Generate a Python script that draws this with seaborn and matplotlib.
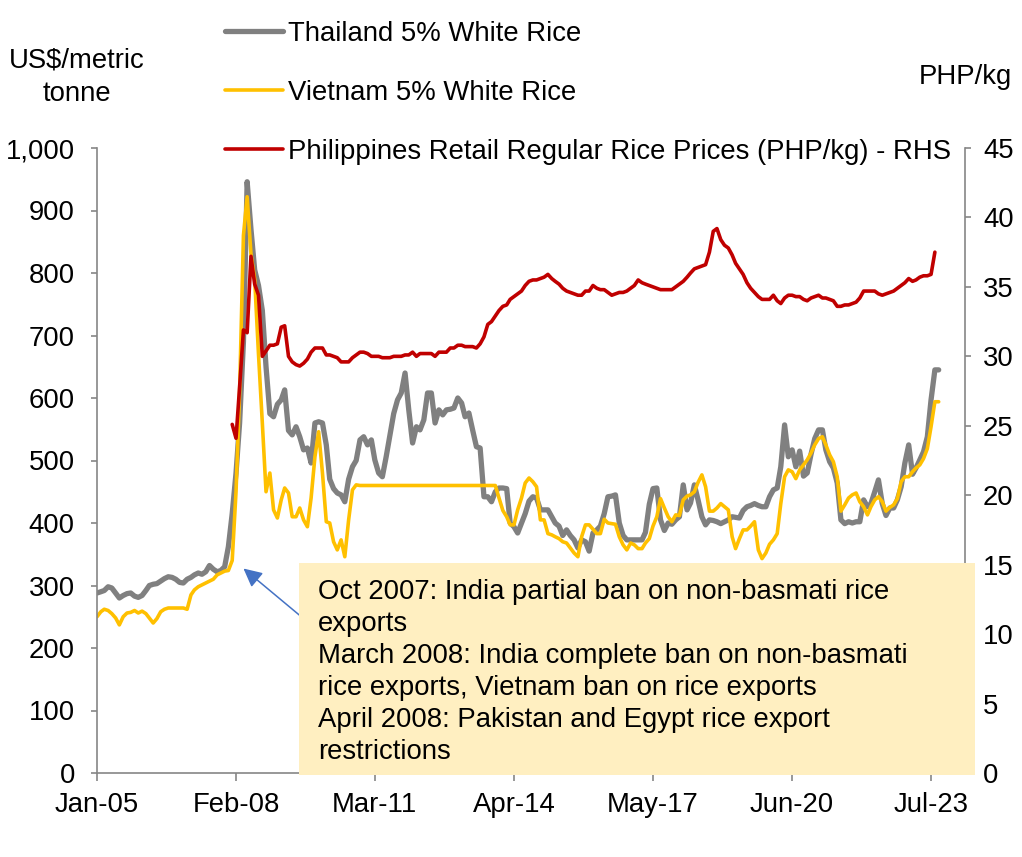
import seaborn as sns
import pandas as pd
import numpy as np
import matplotlib.pyplot as plt
from matplotlib.patches import Rectangle
from matplotlib.ticker import FuncFormatter

# monthly export prices, US$/metric tonne, Jan 2005 - Sep 2023
thailand = [
    288, 290, 292, 298, 296, 288, 280, 284, 287, 288,
    283, 281, 284, 292, 300, 302, 303, 307, 311, 314,
    313, 310, 305, 304, 310, 313, 317, 320, 318, 322,
    332, 326, 322, 324, 330, 362, 415, 480, 560, 690,
    946, 870, 805, 780, 740, 650, 575, 570, 590, 597,
    613, 548, 541, 554, 538, 517, 520, 496, 560, 562,
    560, 525, 470, 455, 448, 445, 434, 470, 490, 500,
    533, 538, 525, 533, 501, 480, 474, 506, 540, 575,
    597, 608, 640, 581, 528, 554, 549, 565, 608, 608,
    560, 581, 573, 581, 582, 584, 600, 592, 570, 576,
    549, 522, 520, 442, 442, 434, 450, 456, 456, 455,
    400, 394, 384, 400, 415, 435, 442, 440, 421, 421,
    421, 410, 400, 395, 380, 389, 380, 373, 360, 373,
    370, 355, 384, 389, 395, 415, 442, 443, 445, 400,
    380, 373, 373, 373, 373, 373, 385, 430, 455, 456,
    405, 388, 400, 398, 405, 410, 461, 421, 432, 461,
    437, 410, 397, 405, 404, 402, 399, 402, 405, 410,
    409, 408, 420, 426, 428, 431, 428, 426, 426, 442,
    453, 456, 490, 557, 506, 517, 490, 515, 475, 480,
    510, 535, 549, 549, 517, 498, 488, 464, 405, 399,
    402, 400, 402, 402, 437, 426, 431, 450, 469, 431,
    412, 424, 424, 437, 458, 496, 525, 478, 488, 501,
    514, 538, 597, 645, 645,
]

vietnam = [
    250, 258, 262, 260, 255, 248, 237, 250, 256, 257,
    260, 256, 259, 255, 248, 240, 247, 258, 262, 264,
    264, 264, 264, 264, 262, 285, 293, 298, 301, 304,
    307, 310, 317, 320, 323, 324, 340, 450, 610, 860,
    922, 830, 790, 670, 560, 450, 480, 421, 408, 437,
    456, 448, 410, 410, 424, 405, 394, 440, 506, 546,
    480, 402, 400, 370, 357, 373, 346, 405, 453, 461,
    460, 460, 460, 460, 460, 460, 460, 460, 460, 460,
    460, 460, 460, 460, 460, 460, 460, 460, 460, 460,
    460, 460, 460, 460, 460, 460, 460, 460, 460, 460,
    460, 460, 460, 460, 460, 460, 460, 440, 420, 410,
    397, 397, 421, 440, 464, 472, 466, 458, 405, 405,
    383, 381, 378, 375, 370, 368, 360, 352, 346, 378,
    397, 397, 390, 383, 383, 406, 400, 399, 398, 378,
    365, 357, 368, 365, 359, 359, 368, 375, 395, 410,
    439, 424, 410, 402, 413, 412, 437, 443, 445, 450,
    465, 477, 458, 419, 419, 424, 431, 426, 421, 378,
    359, 375, 389, 389, 395, 402, 357, 343, 352, 366,
    373, 383, 431, 474, 485, 482, 471, 485, 493, 501,
    512, 525, 535, 538, 525, 509, 498, 474, 419, 429,
    440, 445, 448, 434, 426, 413, 426, 437, 442, 434,
    419, 425, 429, 439, 466, 474, 474, 482, 488, 493,
    503, 519, 554, 594, 594,
]

# retail regular rice, PHP/kg, Jan 2008 - Aug 2023
philippines = [
    25.1, 24.1, 27.8, 31.9, 31.7, 37.2, 35.2, 34.4, 30.0, 30.4,
    30.8, 30.8, 30.9, 32.1, 32.2, 30.0, 29.6, 29.4, 29.3, 29.5,
    29.8, 30.3, 30.6, 30.6, 30.6, 30.1, 30.1, 30.0, 29.9, 29.6,
    29.6, 29.6, 29.9, 30.1, 30.3, 30.3, 30.2, 30.0, 30.0, 30.0,
    29.9, 29.9, 29.9, 30.0, 30.0, 30.0, 30.1, 30.1, 30.3, 30.0,
    30.2, 30.2, 30.2, 30.2, 30.0, 30.3, 30.3, 30.3, 30.6, 30.6,
    30.8, 30.8, 30.7, 30.7, 30.7, 30.6, 30.9, 31.4, 32.3, 32.5,
    32.9, 33.3, 33.6, 33.7, 34.1, 34.3, 34.5, 34.7, 35.1, 35.4,
    35.5, 35.5, 35.6, 35.7, 35.9, 35.6, 35.4, 35.2, 34.9, 34.7,
    34.6, 34.5, 34.4, 34.4, 34.7, 34.7, 35.1, 34.9, 34.8, 34.8,
    34.6, 34.4, 34.5, 34.6, 34.6, 34.7, 34.9, 35.1, 35.5, 35.3,
    35.2, 35.1, 35.0, 34.9, 34.8, 34.8, 34.8, 34.8, 35.0, 35.2,
    35.4, 35.7, 36.0, 36.3, 36.4, 36.5, 36.6, 37.5, 39.0, 39.2,
    38.4, 38.0, 37.8, 37.3, 36.7, 36.3, 35.9, 35.3, 34.9, 34.6,
    34.3, 34.1, 34.1, 34.1, 34.4, 34.0, 33.8, 34.2, 34.4, 34.4,
    34.3, 34.3, 34.1, 34.0, 34.2, 34.3, 34.4, 34.2, 34.2, 34.1,
    34.0, 33.6, 33.6, 33.7, 33.7, 33.8, 33.9, 34.2, 34.7, 34.7,
    34.7, 34.7, 34.5, 34.4, 34.5, 34.6, 34.7, 34.9, 35.1, 35.3,
    35.6, 35.4, 35.5, 35.7, 35.8, 35.8, 35.9, 37.5,
]

tick_dates = ['2005-01-01', '2008-02-01', '2011-03-01', '2014-04-01',
              '2017-05-01', '2020-06-01', '2023-07-01']
tick_labels = ['Jan-05', 'Feb-08', 'Mar-11', 'Apr-14', 'May-17', 'Jun-20', 'Jul-23']

note = ("Oct 2007: India partial ban on non-basmati rice\n"
        "exports\n"
        "March 2008: India complete ban on non-basmati\n"
        "rice exports, Vietnam ban on rice exports\n"
        "April 2008: Pakistan and Egypt rice export\n"
        "restrictions")

sns.set_theme(style="white")
plt.rcParams['font.family'] = ['Liberation Sans', 'DejaVu Sans']
plt.rcParams['text.color'] = 'black'
fs = 19.8
axis_col = '#868686'

exp = pd.DataFrame({
    'month': pd.date_range('2005-01-01', periods=len(thailand), freq='MS'),
    'thai': thailand,
    'viet': vietnam,
})
ret = pd.DataFrame({
    'month': pd.date_range('2008-01-01', periods=len(philippines), freq='MS'),
    'php': philippines,
})

fig = plt.figure(figsize=(10.22, 8.57), dpi=100)
W, H = 1022, 857
ax = fig.add_axes([97 / W, (H - 773) / H, (965 - 97) / W, (773 - 148) / H])
ax2 = ax.twinx()

sns.lineplot(data=exp, x='month', y='thai', ax=ax, color='#808080', lw=3.8,
             label='Thailand 5% White Rice', legend=False)
sns.lineplot(data=exp, x='month', y='viet', ax=ax, color='#FFC000', lw=2.6,
             label='Vietnam 5% White Rice', legend=False)
sns.lineplot(data=ret, x='month', y='php', ax=ax2, color='#C00000', lw=2.6,
             label='Philippines Retail Regular Rice Prices (PHP/kg) - RHS', legend=False)

ax.set_xlim(pd.Timestamp('2005-01-01'), pd.Timestamp('2024-04-01'))
ax.set_ylim(0, 1000)
ax2.set_ylim(0, 45)
ax.set_yticks(np.arange(0, 1001, 100))
ax2.set_yticks(np.arange(0, 46, 5))
ax.yaxis.set_major_formatter(FuncFormatter(lambda v, p: f'{v:,.0f}'))
ax.set_xticks(pd.to_datetime(tick_dates))
ax.set_xticklabels(tick_labels)
ax.set_xlabel('')
ax.set_ylabel('')
ax2.set_ylabel('')

for a in (ax, ax2):
    a.spines['top'].set_visible(False)
    for s in ('left', 'right', 'bottom'):
        a.spines[s].set_color(axis_col)
        a.spines[s].set_linewidth(1.2)
ax.spines['right'].set_visible(False)
ax2.spines['left'].set_visible(False)
ax2.spines['bottom'].set_visible(False)

ax.tick_params(axis='y', direction='out', length=4, width=1.2, color=axis_col,
               labelcolor='black', labelsize=fs, pad=12, left=True)
ax.tick_params(axis='x', direction='out', length=6, width=1.2, color=axis_col,
               labelcolor='black', labelsize=fs, pad=8, bottom=True)
ax2.tick_params(axis='y', direction='out', length=4, width=1.2, color=axis_col,
                labelcolor='black', labelsize=fs, pad=9, right=True)

fig.text(77 / W, 1 - 47 / H, 'US$/metric\ntonne', ha='center', va='top',
         fontsize=fs, linespacing=1.4)
fig.text(1012 / W, 1 - 77 / H, 'PHP/kg', ha='right', va='center', fontsize=fs)

h1, l1 = ax.get_legend_handles_labels()
h2, l2 = ax2.get_legend_handles_labels()
fig.legend(h1 + h2, l1 + l2, loc='upper left', bbox_to_anchor=(225 / W, 1 - 21 / H),
           frameon=False, fontsize=fs, borderpad=0, borderaxespad=0,
           handlelength=2.1, handletextpad=0.2, labelspacing=1.2)

# annotation box and arrow
fig.patches.append(Rectangle((299 / W, (H - 775) / H), 676 / W, 212 / H,
                             transform=fig.transFigure, facecolor='#FFEFC1',
                             edgecolor='none', zorder=5))
fig.text(318 / W, 1 - 579 / H, note, ha='left', va='top', fontsize=fs,
         linespacing=1.3, zorder=6)
ax.annotate('', xy=(pd.Timestamp('2008-03-15'), 330),
            xytext=(pd.Timestamp('2009-10-01'), 237),
            arrowprops=dict(arrowstyle='-|>', color='#4472C4', lw=1.1,
                            mutation_scale=28))

fig.savefig('out.png', dpi=100)
